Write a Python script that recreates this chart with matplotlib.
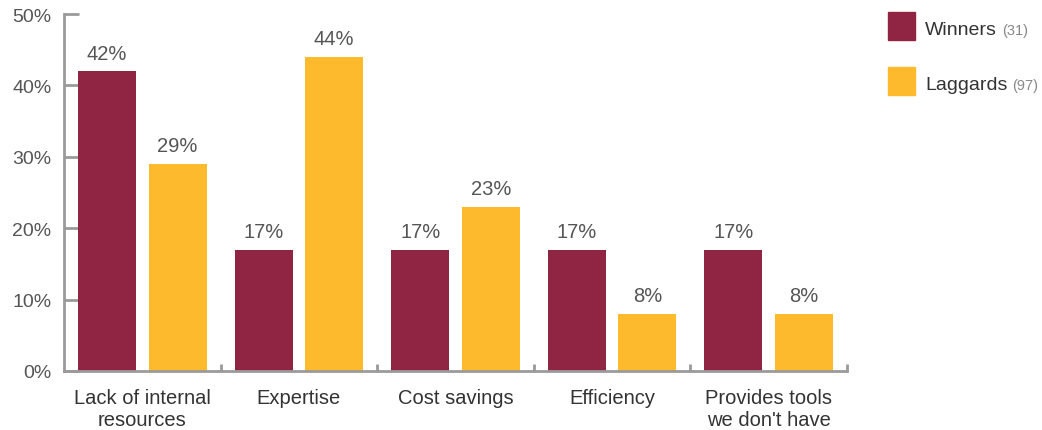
import matplotlib
matplotlib.use("Agg")
import matplotlib.pyplot as plt
from matplotlib.patches import Rectangle
import numpy as np

plt.rcParams['font.family'] = ['Liberation Sans', 'DejaVu Sans']

categories = ["Lack of internal\nresources", "Expertise", "Cost savings",
              "Efficiency", "Provides tools\nwe don't have"]
winners = [42, 17, 17, 17, 17]
laggards = [29, 44, 23, 8, 8]
yticks = [0, 10, 20, 30, 40, 50]
series_names = ["Winners", "Laggards"]
series_counts = ["(31)", "(97)"]

c_win = "#8F2443"
c_lag = "#FDBA2C"
axis_col = "#9a9a9a"
text_col = "#333333"
label_col = "#555555"

fig = plt.figure(figsize=(10.42, 4.31), dpi=100)
ax = fig.add_axes([64/1042, 1-372/431, (847-64)/1042, (372-15)/431])

x = np.arange(len(categories))
w = 0.37
off = 0.225
b1 = ax.bar(x - off, winners, width=w, color=c_win, zorder=2)
b2 = ax.bar(x + off, laggards, width=w, color=c_lag, zorder=2)

for bars, vals in ((b1, winners), (b2, laggards)):
    for r, v in zip(bars, vals):
        ax.text(r.get_x() + r.get_width()/2, v + 1.2, f"{v}%",
                ha="center", va="bottom", fontsize=14.5, color=label_col)

ax.set_xlim(-0.5, len(categories) - 0.5)
ax.set_ylim(0, 50)

for s in ("top", "right"):
    ax.spines[s].set_visible(False)
for s in ("left", "bottom"):
    ax.spines[s].set_color(axis_col)
    ax.spines[s].set_linewidth(2)

ax.set_yticks(yticks)
ax.set_yticklabels([f"{t}%" for t in yticks])
ax.tick_params(axis="y", direction="in", length=11, width=2, color=axis_col,
               labelsize=14, labelcolor=label_col, pad=9)

ax.set_xticks(x)
ax.set_xticklabels(categories, linespacing=1.2)
ax.tick_params(axis="x", which="major", length=0, labelsize=14.5,
               labelcolor=text_col, pad=12)
ax.set_xticks(np.arange(len(categories)) + 0.5, minor=True)
ax.tick_params(axis="x", which="minor", direction="in", length=5, width=2,
               color=axis_col)

# legend: colour swatch, series name and group size
for i, (name, cnt, col) in enumerate(zip(series_names, series_counts, (c_win, c_lag))):
    bottom_px = 41 + i*55
    y0 = 1 - bottom_px/431
    fig.patches.append(Rectangle((888/1042, y0), 27/1042, 28/431,
                                 transform=fig.transFigure, color=col))
    base = 1 - (bottom_px - 6)/431
    t = fig.text(925/1042, base, name, fontsize=14, color=text_col,
                 va="baseline", ha="left")
    fig.canvas.draw()
    bb = t.get_window_extent()
    fig.text((bb.x1 + 5)/1042, base, cnt, fontsize=10.5,
             color="#888888", va="baseline", ha="left")

fig.savefig("out.png", dpi=100)
